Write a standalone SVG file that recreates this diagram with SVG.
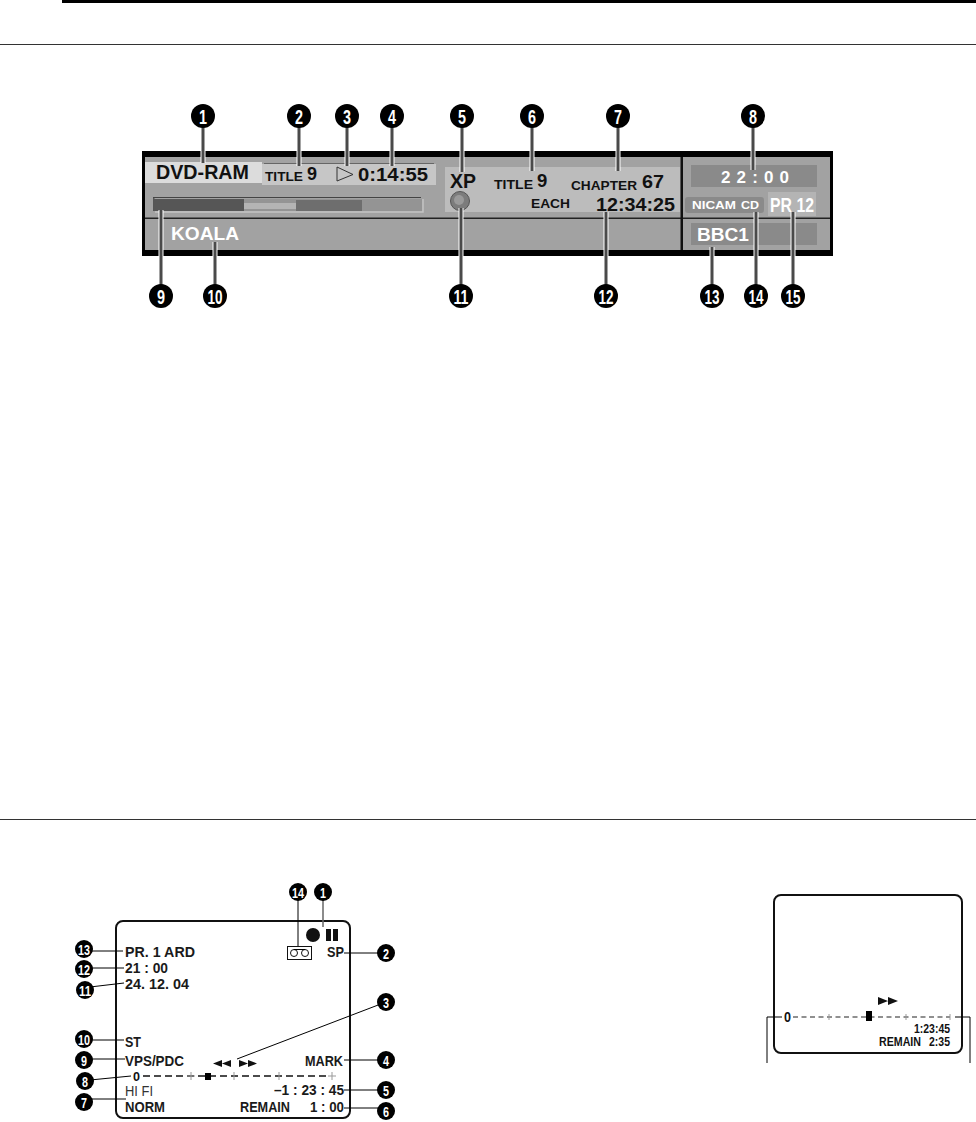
<svg xmlns="http://www.w3.org/2000/svg" width="976" height="1122" viewBox="0 0 976 1122">
<style>
text{font-family:"Liberation Sans",Arial,sans-serif;font-weight:700;fill:#111}
.w{fill:#fff}
.m{fill:#000}
.mt{fill:#fff;text-anchor:middle;font-size:21px}
.ms{fill:#fff;text-anchor:middle;font-size:15px}
.h{stroke:#fff;stroke-width:5;fill:none}
.l{stroke:#4a4a4a;stroke-width:3;fill:none}
.t{stroke:#000;stroke-width:1;fill:none}
.o{font-size:15.500px;fill:#1a1a1a}
.scr{fill:#fff;stroke:#111;stroke-width:2}
.d{stroke:#111;stroke-width:1.6;stroke-dasharray:7 4;fill:none}
.tick{stroke:#999;stroke-width:1;fill:none}
</style>
<rect width="976" height="1122" fill="#fff"/>
<g id="rules">
<rect x="62" y="0" width="914" height="3" fill="#000"/>
<rect x="0" y="44" width="976" height="1" fill="#333"/>
<rect x="0" y="819" width="976" height="1" fill="#333"/>
</g>
<g id="panel">
<rect x="142" y="151" width="691" height="105" fill="#000"/>
<rect x="145" y="157" width="685" height="93" fill="#a2a2a2"/>
<rect x="145" y="217.500" width="685" height="1.500" fill="#222"/>
<rect x="680.500" y="157" width="2.500" height="93" fill="#111"/>
<rect x="145" y="162" width="117" height="21" fill="#dcdcdc"/>
<text x="156" y="179" font-size="19.500" textLength="93" lengthAdjust="spacingAndGlyphs">DVD-RAM</text>
<rect x="264" y="163" width="170" height="1" fill="#666"/>
<rect x="262" y="164" width="174" height="21" fill="#c6c6c6"/>
<text x="265" y="181" font-size="13.500" textLength="38" lengthAdjust="spacingAndGlyphs">TITLE</text>
<text x="307" y="180" font-size="18">9</text>
<path d="M337 167 L353 174.500 L337 181 Z" fill="#c6c6c6" stroke="#333" stroke-width="1"/>
<text x="358" y="181" font-size="19" textLength="70" lengthAdjust="spacingAndGlyphs">0:14:55</text>
<rect x="445" y="167" width="235" height="45" fill="#bcbcbc"/>
<text x="450" y="188" font-size="19.500" fill="#000" textLength="26" lengthAdjust="spacingAndGlyphs">XP</text>
<circle cx="460" cy="201" r="9.500" fill="#7c7c7c" stroke="#555" stroke-width="1"/>
<circle cx="459" cy="200" r="5" fill="#9a9a9a"/>
<text x="494" y="189" font-size="13.500" textLength="39" lengthAdjust="spacingAndGlyphs">TITLE</text>
<text x="537" y="187" font-size="18.500">9</text>
<text x="571" y="190" font-size="13" textLength="66" lengthAdjust="spacingAndGlyphs">CHAPTER</text>
<text x="642" y="188" font-size="18.500" textLength="22" lengthAdjust="spacingAndGlyphs">67</text>
<text x="531" y="208" font-size="13" textLength="39" lengthAdjust="spacingAndGlyphs">EACH</text>
<text x="596" y="211" font-size="19" textLength="79" lengthAdjust="spacingAndGlyphs">12:34:25</text>
<rect x="153" y="197" width="268" height="1" fill="#444"/>
<path d="M423 199 V212 H155" fill="none" stroke="#c4c4c4" stroke-width="1.500"/>
<rect x="153" y="198" width="1.500" height="13" fill="#555"/>
<rect x="155" y="199" width="267" height="12" fill="#949494"/>
<rect x="154" y="199" width="90" height="12" fill="#565656"/>
<rect x="244" y="203" width="52" height="6" fill="#b4b4b4"/>
<rect x="296" y="200" width="66" height="11" fill="#6e6e6e"/>
<text x="171" y="240" font-size="19" class="w" textLength="68" lengthAdjust="spacingAndGlyphs">KOALA</text>
<rect x="691" y="165" width="126" height="22" fill="#8a8a8a"/>
<text x="721" y="183" font-size="17" class="w" textLength="68">22:00</text>
<rect x="685" y="197" width="79" height="16" rx="3" fill="#8a8a8a"/>
<text x="692" y="209" font-size="11.500" class="w" textLength="44" lengthAdjust="spacingAndGlyphs">NICAM</text>
<text x="741" y="209" font-size="11.500" class="w" textLength="18" lengthAdjust="spacingAndGlyphs">CD</text>
<rect x="768" y="192" width="48" height="24" fill="#b4b4b4"/>
<text x="770" y="212" font-size="20" class="w" textLength="44" lengthAdjust="spacingAndGlyphs">PR 12</text>
<rect x="691" y="223" width="126" height="22" fill="#8a8a8a"/>
<text x="697" y="241" font-size="19" class="w" textLength="52" lengthAdjust="spacingAndGlyphs">BBC1</text>
</g>
<g id="screen-left">
<rect class="scr" x="116" y="921" width="234" height="197" rx="7"/>
<text class="o" x="125" y="957" textLength="70" lengthAdjust="spacingAndGlyphs">PR. 1 ARD</text>
<text class="o" x="125" y="973" textLength="43" lengthAdjust="spacingAndGlyphs">21 : 00</text>
<text class="o" x="125" y="989" textLength="64" lengthAdjust="spacingAndGlyphs">24. 12. 04</text>
<text class="o" x="125" y="1047" textLength="16" lengthAdjust="spacingAndGlyphs">ST</text>
<text class="o" x="125" y="1066" textLength="59" lengthAdjust="spacingAndGlyphs">VPS/PDC</text>
<text x="133" y="1081" font-size="12.500" textLength="7" lengthAdjust="spacingAndGlyphs">0</text>
<text class="o" x="125" y="1096" style="font-weight:400;fill:#333" textLength="28" lengthAdjust="spacingAndGlyphs">HI FI</text>
<text class="o" x="125" y="1112" textLength="40" lengthAdjust="spacingAndGlyphs">NORM</text>
<text class="o" x="327" y="957" textLength="17" lengthAdjust="spacingAndGlyphs">SP</text>
<text class="o" x="305" y="1066" textLength="38" lengthAdjust="spacingAndGlyphs">MARK</text>
<text class="o" x="274" y="1095" textLength="70" lengthAdjust="spacingAndGlyphs">–1 : 23 : 45</text>
<text class="o" x="240" y="1112" textLength="50" lengthAdjust="spacingAndGlyphs">REMAIN</text>
<text class="o" x="310" y="1112" textLength="34" lengthAdjust="spacingAndGlyphs">1 : 00</text>
<path class="d" d="M143 1076H330"/>
<path class="tick" d="M191 1072V1080M234 1072V1080M279 1072V1080M332 1072V1080M187 1076H195M328 1076H336"/>
<rect x="205" y="1073" width="6" height="7" fill="#000"/>
<path d="M222 1060V1067L213 1063.500ZM231 1060V1067L222 1063.500ZM239 1060V1067L248 1063.500ZM248 1060V1067L257 1063.500Z" fill="#111"/>
<circle cx="313" cy="935" r="7" fill="#111"/>
<rect x="326" y="929" width="5" height="12" fill="#111"/>
<rect x="333" y="929" width="5" height="12" fill="#111"/>
<rect x="287.500" y="946.500" width="24" height="13" fill="#fff" stroke="#111"/>
<circle cx="294" cy="953" r="3.500" fill="none" stroke="#111"/>
<circle cx="305" cy="953" r="3.500" fill="none" stroke="#111"/>
<path class="t" d="M294 949.500H305"/>
</g>
<g id="screen-right">
<rect class="scr" x="774" y="895" width="188" height="158" rx="7"/>
<text x="784" y="1022" font-size="14.500" textLength="7" lengthAdjust="spacingAndGlyphs">0</text>
<path d="M793 1017H950" stroke="#222" stroke-width="1.200" stroke-dasharray="5 3.500" fill="none"/>
<path class="tick" d="M829 1014V1020M906 1014V1020M950 1014V1020" stroke="#666"/>
<rect x="866" y="1011" width="6" height="10" fill="#000"/>
<path d="M878 997V1005L888 1001ZM888 997V1005L898 1001Z" fill="#111"/>
<text x="914" y="1033" font-size="13" textLength="36" lengthAdjust="spacingAndGlyphs">1:23:45</text>
<text x="879" y="1046" font-size="13" textLength="42" lengthAdjust="spacingAndGlyphs">REMAIN</text>
<text x="929" y="1046" font-size="13" textLength="21" lengthAdjust="spacingAndGlyphs">2:35</text>
</g>
<g id="connectors">
<path class="h" d="M203 116V163M299 116V166M347 116V166M392 116V166M462 116V172M532 116V171M618 116V171M753 116V170M161 296V210M215 296V242M461 296V208M606 296V212M712 296V247M756 296V212M793 296V212"/>
<path class="l" d="M203 116V163M299 116V166M347 116V166M392 116V166M462 116V172M532 116V171M618 116V171M753 116V170M161 296V210M215 296V242M461 296V208M606 296V212M712 296V247M756 296V212M793 296V212"/>
<path class="t" d="M84 951H123M84 968H124M90 987L124 983M84 1040H124M84 1059H125M90 1080L131 1076M84 1099H126M298 892V946M344 953H386M237 1059L386 1002M344 1060H386M344 1090H386M344 1108H386"/>
<path d="M323 892V927" stroke="#666" stroke-width="1.500" fill="none"/>
<path class="t" d="M767 1063V1017H782M970 1063V1017H955"/>
</g>
<g id="n1"><circle class="m" cx="203" cy="116" r="12"/><text class="mt" x="203" y="123.500" textLength="8" lengthAdjust="spacingAndGlyphs">1</text></g>
<g id="n2"><circle class="m" cx="299" cy="116" r="12"/><text class="mt" x="299" y="123.500" textLength="8" lengthAdjust="spacingAndGlyphs">2</text></g>
<g id="n3"><circle class="m" cx="347" cy="116" r="12"/><text class="mt" x="347" y="123.500" textLength="8" lengthAdjust="spacingAndGlyphs">3</text></g>
<g id="n4"><circle class="m" cx="392" cy="116" r="12"/><text class="mt" x="392" y="123.500" textLength="8" lengthAdjust="spacingAndGlyphs">4</text></g>
<g id="n5"><circle class="m" cx="462" cy="116" r="12"/><text class="mt" x="462" y="123.500" textLength="8" lengthAdjust="spacingAndGlyphs">5</text></g>
<g id="n6"><circle class="m" cx="532" cy="116" r="12"/><text class="mt" x="532" y="123.500" textLength="8" lengthAdjust="spacingAndGlyphs">6</text></g>
<g id="n7"><circle class="m" cx="618" cy="116" r="12"/><text class="mt" x="618" y="123.500" textLength="8" lengthAdjust="spacingAndGlyphs">7</text></g>
<g id="n8"><circle class="m" cx="753" cy="116" r="12"/><text class="mt" x="753" y="123.500" textLength="8" lengthAdjust="spacingAndGlyphs">8</text></g>
<g id="n9"><circle class="m" cx="161" cy="296" r="12"/><text class="mt" x="161" y="303.500" textLength="8" lengthAdjust="spacingAndGlyphs">9</text></g>
<g id="n10"><circle class="m" cx="215" cy="296" r="12"/><text class="mt" x="215" y="303.500" textLength="15" lengthAdjust="spacingAndGlyphs">10</text></g>
<g id="n11"><circle class="m" cx="461" cy="296" r="12"/><text class="mt" x="461" y="303.500" textLength="15" lengthAdjust="spacingAndGlyphs">11</text></g>
<g id="n12"><circle class="m" cx="606" cy="296" r="12"/><text class="mt" x="606" y="303.500" textLength="15" lengthAdjust="spacingAndGlyphs">12</text></g>
<g id="n13"><circle class="m" cx="712" cy="296" r="12"/><text class="mt" x="712" y="303.500" textLength="15" lengthAdjust="spacingAndGlyphs">13</text></g>
<g id="n14"><circle class="m" cx="756" cy="296" r="12"/><text class="mt" x="756" y="303.500" textLength="15" lengthAdjust="spacingAndGlyphs">14</text></g>
<g id="n15"><circle class="m" cx="793" cy="296" r="12"/><text class="mt" x="793" y="303.500" textLength="15" lengthAdjust="spacingAndGlyphs">15</text></g>
<g id="s13"><circle class="m" cx="84" cy="949" r="9"/><text class="ms" x="84" y="954.500" textLength="12" lengthAdjust="spacingAndGlyphs">13</text></g>
<g id="s12"><circle class="m" cx="84" cy="969" r="9"/><text class="ms" x="84" y="974.500" textLength="12" lengthAdjust="spacingAndGlyphs">12</text></g>
<g id="s11"><circle class="m" cx="85" cy="990" r="9"/><text class="ms" x="85" y="995.500" textLength="12" lengthAdjust="spacingAndGlyphs">11</text></g>
<g id="s10"><circle class="m" cx="84" cy="1039" r="9"/><text class="ms" x="84" y="1044.500" textLength="12" lengthAdjust="spacingAndGlyphs">10</text></g>
<g id="s9"><circle class="m" cx="84" cy="1060" r="9"/><text class="ms" x="84" y="1065.500" textLength="6" lengthAdjust="spacingAndGlyphs">9</text></g>
<g id="s8"><circle class="m" cx="85" cy="1081" r="9"/><text class="ms" x="85" y="1086.500" textLength="6" lengthAdjust="spacingAndGlyphs">8</text></g>
<g id="s7"><circle class="m" cx="84" cy="1102" r="9"/><text class="ms" x="84" y="1107.500" textLength="6" lengthAdjust="spacingAndGlyphs">7</text></g>
<g id="s14"><circle class="m" cx="298" cy="892" r="9"/><text class="ms" x="298" y="897.500" textLength="12" lengthAdjust="spacingAndGlyphs">14</text></g>
<g id="s1"><circle class="m" cx="323" cy="892" r="9"/><text class="ms" x="323" y="897.500" textLength="6" lengthAdjust="spacingAndGlyphs">1</text></g>
<g id="s2"><circle class="m" cx="386" cy="953" r="9"/><text class="ms" x="386" y="958.500" textLength="6" lengthAdjust="spacingAndGlyphs">2</text></g>
<g id="s3"><circle class="m" cx="386" cy="1002" r="9"/><text class="ms" x="386" y="1007.500" textLength="6" lengthAdjust="spacingAndGlyphs">3</text></g>
<g id="s4"><circle class="m" cx="386" cy="1060" r="9"/><text class="ms" x="386" y="1065.500" textLength="6" lengthAdjust="spacingAndGlyphs">4</text></g>
<g id="s5"><circle class="m" cx="386" cy="1090" r="9"/><text class="ms" x="386" y="1095.500" textLength="6" lengthAdjust="spacingAndGlyphs">5</text></g>
<g id="s6"><circle class="m" cx="386" cy="1111" r="9"/><text class="ms" x="386" y="1116.500" textLength="6" lengthAdjust="spacingAndGlyphs">6</text></g>
</svg>
